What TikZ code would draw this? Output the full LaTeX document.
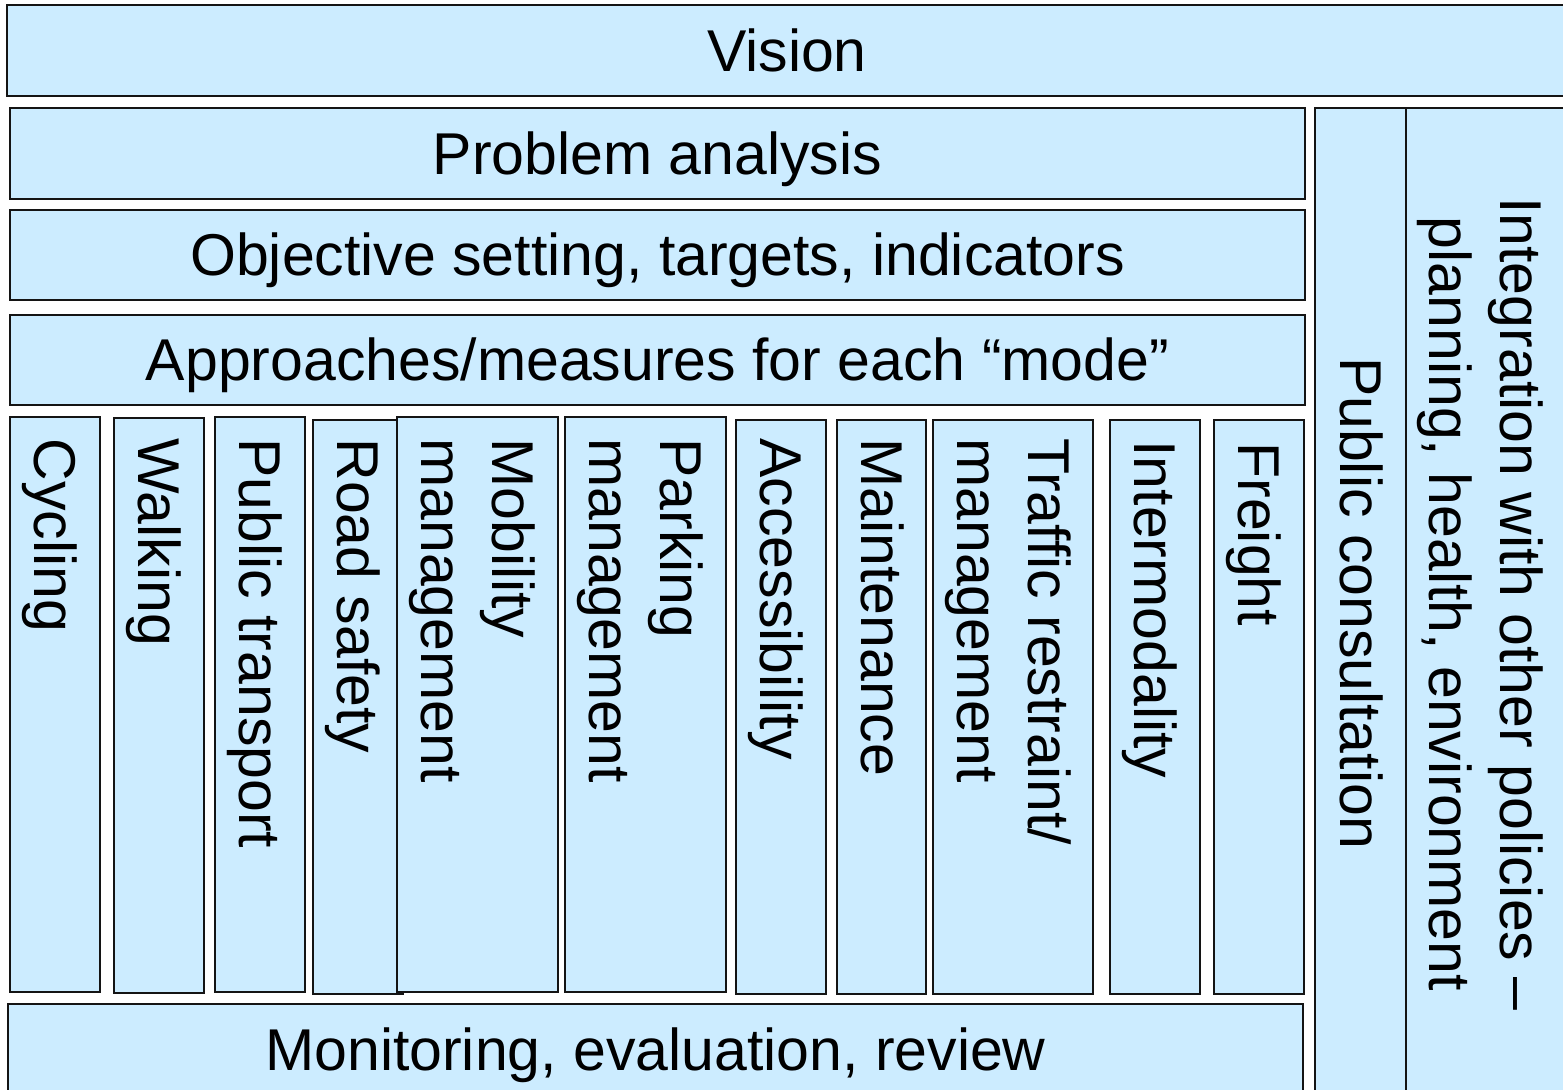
\documentclass[tikz,border=0pt]{standalone}
\usepackage{fontspec}
\setmainfont{Liberation Sans}
\definecolor{boxfill}{RGB}{204,236,255}
\definecolor{boxline}{RGB}{20,20,20}
\tikzset{
  panel/.style={fill=boxfill, draw=boxline, line width=0.9pt},
  lbl/.style={font=\fontsize{29.5pt}{35.5pt}\selectfont, inner sep=0pt, text=black},
  hlbl/.style={lbl, anchor=base},
  vlbl/.style={lbl, rotate=-90, anchor=base west},
  vlbltwo/.style={lbl, rotate=-90, anchor=west, align=left},
}
\begin{document}
\begin{tikzpicture}[x=0.5pt,y=-0.5pt]
\clip (0,0) rectangle (1563,1089);
\fill[white] (0,0) rectangle (1563,1089);
% horizontal bands
\path[panel] (7,5) rectangle (1570,96);
\path[panel] (10,108) rectangle (1305,199);
\path[panel] (10,210) rectangle (1305,300);
\path[panel] (10,315) rectangle (1305,405);
\path[panel] (8,1004) rectangle (1303,1096);
% right side columns
\path[panel] (1315,108) rectangle (1406,1100);
\path[panel] (1406,108) rectangle (1570,1100);
% mode columns
\path[panel] (10,417) rectangle (100,992);
\path[panel] (114,418) rectangle (204,993);
\path[panel] (215,417) rectangle (305,992);
\path[panel] (313,420) rectangle (403,994);
\path[panel] (397,417) rectangle (558,992);
\path[panel] (565,417) rectangle (726,992);
\path[panel] (736,420) rectangle (826,994);
\path[panel] (837,420) rectangle (926,994);
\path[panel] (933,420) rectangle (1093,994);
\path[panel] (1110,420) rectangle (1200,994);
\path[panel] (1214,420) rectangle (1304,994);
% horizontal labels
\node[hlbl] (vision) at (787,71) {Vision};
\node[hlbl] (problem) at (657.5,174) {Problem analysis};
\node[hlbl] (objective) at (657.5,275.5) {Objective setting, targets, indicators};
\node[hlbl] (approaches) at (657.5,380.5) {Approaches/measures for each “mode”};
\node[hlbl] (monitoring) at (655.5,1070.5) {Monitoring, evaluation, review};
% vertical labels
\node[vlbl] (cycling) at (34.5,438) {Cycling};
\node[vlbl] (walking) at (138.5,438) {Walking};
\node[vlbl] (publictransport) at (239.5,438) {Public transport};
\node[vlbl] (roadsafety) at (337.5,438) {Road safety};
\node[vlbltwo] (mobility) at (472.3,438) {Mobility\\management};
\node[vlbltwo] (parking) at (640.3,438) {Parking\\management};
\node[vlbl] (accessibility) at (760.5,438) {Accessibility};
\node[vlbl] (maintenance) at (861,438) {Maintenance};
\node[vlbltwo] (traffic) at (1007.8,438) {Traffic restraint/\\management};
\node[vlbl] (intermodality) at (1134.5,440) {Intermodality};
\node[vlbl] (freight) at (1238.5,442) {Freight};
\node[lbl, rotate=-90, anchor=base] (consultation) at (1340,603) {Public consultation};
\node[lbl, rotate=-90, align=center] (integration) at (1480.3,604) {Integration with other policies –\\planning, health, environment};
\end{tikzpicture}
\end{document}
